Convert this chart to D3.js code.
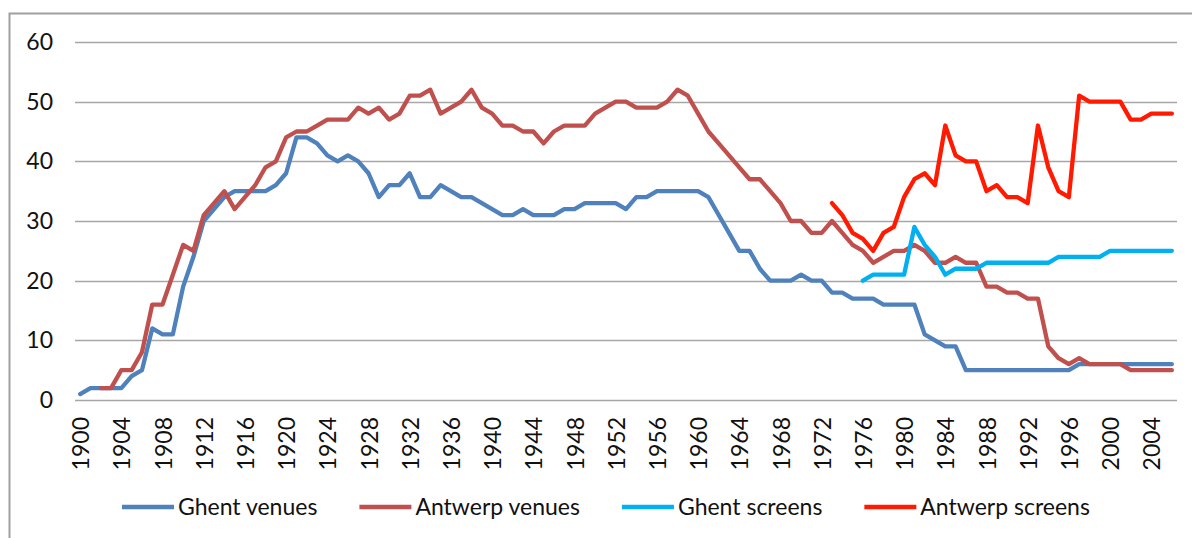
<!DOCTYPE html>
<html>
<head>
<meta charset="utf-8">
<script src="https://cdn.jsdelivr.net/npm/d3@7"></script>
<style>
  html, body { margin: 0; padding: 0; background: #fff; }
  svg { display: block; font-family: Lato, "Open Sans", sans-serif; }
  .grid line { stroke: #a6a6a6; stroke-width: 1.3; }
  .tick-label { fill: #111; font-size: 23px; }
  .legend text { fill: #111; font-size: 23px; }
  .series { fill: none; stroke-width: 4.3; stroke-linejoin: round; stroke-linecap: round; }
</style>
</head>
<body>
<div id="chart"></div>
<script>
const width = 1192, height = 538;

// categories: one per year
const firstYear = 1900, lastYear = 2006;
const years = d3.range(firstYear, lastYear + 1);
const yTicks = [0, 10, 20, 30, 40, 50, 60];

// values, one per year starting at 1900
const ghentVenues = [
  1, 2, 2, 2, 2, 4, 5, 12, 11, 11,
  19, 24, 30, 32, 34, 35, 35, 35, 35, 36,
  38, 44, 44, 43, 41, 40, 41, 40, 38, 34,
  36, 36, 38, 34, 34, 36, 35, 34, 34, 33,
  32, 31, 31, 32, 31, 31, 31, 32, 32, 33,
  33, 33, 33, 32, 34, 34, 35, 35, 35, 35,
  35, 34, 31, 28, 25, 25, 22, 20, 20, 20,
  21, 20, 20, 18, 18, 17, 17, 17, 16, 16,
  16, 16, 11, 10, 9, 9, 5, 5, 5, 5,
  5, 5, 5, 5, 5, 5, 5, 6, 6, 6,
  6, 6, 6, 6, 6, 6, 6
];

const antwerpVenues = [
  null, null, 2, 2, 5, 5, 8, 16, 16, 21,
  26, 25, 31, 33, 35, 32, 34, 36, 39, 40,
  44, 45, 45, 46, 47, 47, 47, 49, 48, 49,
  47, 48, 51, 51, 52, 48, 49, 50, 52, 49,
  48, 46, 46, 45, 45, 43, 45, 46, 46, 46,
  48, 49, 50, 50, 49, 49, 49, 50, 52, 51,
  48, 45, 43, 41, 39, 37, 37, 35, 33, 30,
  30, 28, 28, 30, 28, 26, 25, 23, 24, 25,
  25, 26, 25, 23, 23, 24, 23, 23, 19, 19,
  18, 18, 17, 17, 9, 7, 6, 7, 6, 6,
  6, 6, 5, 5, 5, 5, 5
];

// screens series start later
const ghentScreensStart = 1976;
const ghentScreens = [
  20, 21, 21, 21, 21, 29, 26, 24, 21, 22,
  22, 22, 23, 23, 23, 23, 23, 23, 23, 24,
  24, 24, 24, 24, 25, 25, 25, 25, 25, 25,
  25
];

const antwerpScreensStart = 1973;
const antwerpScreens = [
  33, 31, 28, 27, 25, 28, 29, 34, 37, 38,
  36, 46, 41, 40, 40, 35, 36, 34, 34, 33,
  46, 39, 35, 34, 51, 50, 50, 50, 50, 47,
  47, 48, 48, 48
];

const seriesNames = ['Ghent venues', 'Antwerp venues', 'Ghent screens', 'Antwerp screens'];
const seriesColors = ['#4f81bd', '#c0504d', '#00b0f0', '#ff1a00'];

function toPoints(values, start) {
  return values.map((v, i) => ({ year: start + i, value: v }));
}

const series = [
  toPoints(ghentVenues, firstYear),
  toPoints(antwerpVenues, firstYear),
  toPoints(ghentScreens, ghentScreensStart),
  toPoints(antwerpScreens, antwerpScreensStart)
];

const margin = { left: 75, right: 15, top: 42, bottom: 138 };

const x = d3.scaleBand()
  .domain(years)
  .range([margin.left, width - margin.right])
  .padding(0);

const y = d3.scaleLinear()
  .domain([0, 60])
  .range([height - margin.bottom, margin.top]);

const svg = d3.select('#chart')
  .append('svg')
  .attr('width', width)
  .attr('height', height);

// outer chart frame (right and bottom edges fall outside the picture)
svg.append('rect')
  .attr('x', 9.5)
  .attr('y', 13.5)
  .attr('width', width + 20)
  .attr('height', height + 20)
  .attr('fill', '#fff')
  .attr('stroke', '#a0a0a0')
  .attr('stroke-width', 2);

// horizontal gridlines, the 0 line doubles as the axis
svg.append('g')
  .attr('class', 'grid')
  .selectAll('line')
  .data(yTicks)
  .enter().append('line')
  .attr('x1', margin.left)
  .attr('x2', width - margin.right)
  .attr('y1', d => Math.round(y(d)) + 0.5)
  .attr('y2', d => Math.round(y(d)) + 0.5);

svg.append('g')
  .selectAll('text')
  .data(yTicks)
  .enter().append('text')
  .attr('class', 'tick-label')
  .attr('x', 53)
  .attr('y', d => y(d))
  .attr('dy', '0.35em')
  .attr('text-anchor', 'end')
  .text(d => d);

// year labels every 4 years, rotated
svg.append('g')
  .selectAll('text')
  .data(years.filter(d => (d - firstYear) % 4 === 0))
  .enter().append('text')
  .attr('class', 'tick-label')
  .attr('text-anchor', 'end')
  .attr('dy', '0.35em')
  .attr('transform', d => `translate(${x(d) + x.bandwidth() / 2 + 1},${y(0) + 17}) rotate(-90)`)
  .text(d => d);

const line = d3.line()
  .defined(d => d.value != null)
  .x(d => x(d.year) + x.bandwidth() / 2)
  .y(d => y(d.value));

svg.append('g')
  .selectAll('path')
  .data(series)
  .enter().append('path')
  .attr('class', 'series')
  .attr('stroke', (d, i) => seriesColors[i])
  .attr('d', line);

// legend, laid out from measured text widths
const legend = svg.append('g').attr('class', 'legend');
const legendY = 507;
let lx = 122;
seriesNames.forEach((name, i) => {
  legend.append('line')
    .attr('x1', lx)
    .attr('x2', lx + 52)
    .attr('y1', legendY)
    .attr('y2', legendY)
    .attr('stroke', seriesColors[i])
    .attr('stroke-width', 4.3);
  const t = legend.append('text')
    .attr('x', lx + 56)
    .attr('y', legendY)
    .attr('dy', '0.35em')
    .text(name);
  lx += 56 + t.node().getComputedTextLength() + 42;
});
</script>
</body>
</html>
